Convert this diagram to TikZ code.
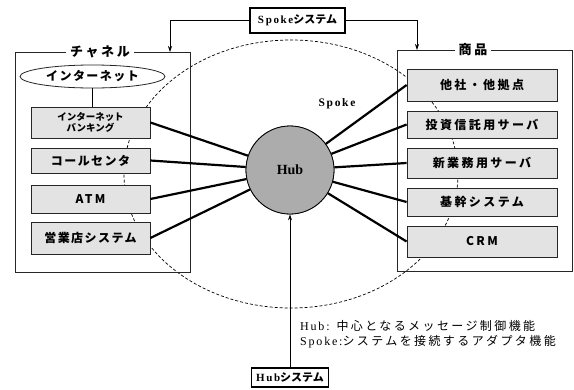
\documentclass[tikz,border=0pt]{standalone}
\usepackage{fontspec}
\setmainfont{Liberation Serif}
\newfontfamily\jp{Noto Sans CJK JP}
\newfontfamily\jps[LetterSpace=20]{Noto Sans CJK JP}
\newfontfamily\jpn[LetterSpace=12]{Noto Sans CJK JP}
\newfontfamily\sps[LetterSpace=15]{Liberation Serif}
\usetikzlibrary{arrows.meta,shapes.geometric}
\begin{document}
\begin{tikzpicture}[x=1pt,y=-1pt,
 sub/.style={draw=black!85, line width=0.8pt, fill=gray!22, inner sep=0pt, align=center,
   font=\jps\bfseries\fontsize{12}{14}\selectfont},
 frame/.style={draw=black!85, line width=0.8pt, inner sep=0pt},
 ttl/.style={fill=white, inner xsep=4pt, inner ysep=1pt, font=\jps\bfseries\fontsize{13}{15}\selectfont},
 spk/.style={line width=2.2pt},
 arr/.style={line width=0.7pt, -{Stealth[length=6pt,width=4pt]}},
 sysbox/.style={draw, line width=1.3pt, fill=white, inner sep=0pt},
 hubstyle/.style={circle, draw=black, line width=0.8pt, fill=gray!65, minimum size=88pt, inner sep=0pt}
]
\useasboundingbox (0,0) rectangle (574,389);

% dashed Spoke ellipse
\draw[line width=0.7pt, dash pattern=on 3pt off 2pt] (291,174) ellipse [x radius=167pt, y radius=134pt];

% frames
\node[frame, minimum width=175pt, minimum height=220pt] (chan) at (102.5,162) {};
\node[frame, minimum width=175pt, minimum height=221pt] (prod) at (484.5,160.5) {};
\node[ttl] (chanT) at (100,52) {チャネル};
\node[ttl] (prodT) at (473,50) {商品};

% channel items
\node[ellipse, draw=black!85, line width=0.8pt, fill=white, minimum width=145pt, minimum height=23pt, inner sep=0pt,
  font=\jpn\bfseries\fontsize{12}{14}\selectfont] (inet) at (92.5,76.5) {インターネット};
\node[sub, minimum width=119pt, minimum height=31pt, font=\jp\bfseries\fontsize{9.5}{11.5}\selectfont] (ib) at (90.5,122.5) {インターネット\\バンキング};
\node[sub, minimum width=119pt, minimum height=25pt, font=\jpn\bfseries\fontsize{12}{14}\selectfont] (cc) at (90.5,160.5) {コールセンタ};
\node[sub, minimum width=119pt, minimum height=28pt] (atm) at (90.5,199) {ATM};
\node[sub, minimum width=119pt, minimum height=32pt, font=\jpn\bfseries\fontsize{12}{14}\selectfont] (eig) at (90.5,238) {営業店システム};
\draw[line width=1.6pt] (inet.south) -- (inet.south |- ib.north);

% product items
\node[sub, minimum width=150pt, minimum height=32pt] (tasha) at (482,85) {他社・他拠点};
\node[sub, minimum width=150pt, minimum height=27pt] (toshi) at (482,124.5) {投資信託用サーバ};
\node[sub, minimum width=150pt, minimum height=30pt] (shin) at (482,163) {新業務用サーバ};
\node[sub, minimum width=150pt, minimum height=28pt] (kikan) at (482,202) {基幹システム};
\node[sub, minimum width=150pt, minimum height=31pt] (crm) at (482,241.5) {CRM};

% hub
\node[hubstyle] (hub) at (290,170) {};
\foreach \b in {ib,cc,atm,eig}{\draw[spk] (\b.east) -- (hub);}
\foreach \b in {tasha,toshi,shin,kikan,crm}{\draw[spk] (\b.west) -- (hub);}
\node[hubstyle, font=\bfseries\fontsize{14}{16}\selectfont] (hubC) at (290,170) {Hub};

\node[font=\sps\bfseries\fontsize{11.5}{13}\selectfont] (spklbl) at (337,104) {Spoke};

% system boxes
\node[sysbox, minimum width=95pt, minimum height=25pt, font=\fontsize{11}{13}\selectfont] (spks) at (297.5,20.5)
  {{\sps\bfseries Spoke}{\jp\bfseries システム}};
\node[sysbox, minimum width=77pt, minimum height=19pt, font=\fontsize{11}{13}\selectfont] (hubs) at (290,377.5)
  {{\sps\bfseries Hub}{\jp\bfseries システム}};

\coordinate (chin) at (170,52);
\coordinate (prin) at (417,50);
\draw[arr] (spks.west) -| (chin);
\draw[arr] (spks.east) -| (prin);
\draw[arr] (hubs.north) -- (hubC.south);

% legend
\node[anchor=base west, inner sep=0pt, font=\fontsize{12}{14}\selectfont] (leg1) at (300,330)
  {\sps Hub:\hspace{7pt}{\jps 中心となるメッセージ制御機能}};
\node[anchor=base west, inner sep=0pt, font=\fontsize{12}{14}\selectfont] (leg2) at (300,345)
  {\sps Spoke:{\jps システムを接続するアダプタ機能}};
\end{tikzpicture}
\end{document}
